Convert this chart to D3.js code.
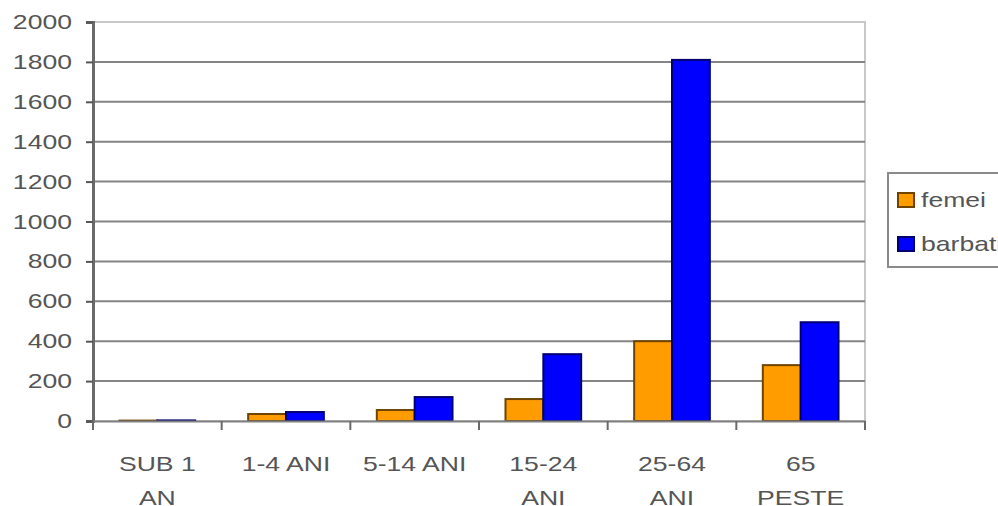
<!DOCTYPE html>
<html>
<head>
<meta charset="utf-8">
<script src="https://cdn.jsdelivr.net/npm/d3@7/dist/d3.min.js"></script>
<style>
  html, body { margin: 0; padding: 0; background: #fff; overflow: hidden; }
  svg { display: block; font-family: Arial, "Liberation Sans", sans-serif; }
</style>
</head>
<body>
<svg id="chart" width="998" height="506"></svg>
<script>
// Age groups (line breaks as shown under the axis)
const categories = ["SUB 1 AN", "1-4 ANI", "5-14 ANI", "15-24 ANI", "25-64 ANI", "65 PESTE"];
const categoryLines = [["SUB 1", "AN"], ["1-4 ANI"], ["5-14 ANI"], ["15-24", "ANI"], ["25-64", "ANI"], ["65", "PESTE"]];
const seriesNames = ["femei", "barbati"];
const femei = [2, 35, 55, 110, 400, 280];
const barbati = [3, 45, 120, 335, 1810, 495];
const yTicks = [0, 200, 400, 600, 800, 1000, 1200, 1400, 1600, 1800, 2000];

const fills = ["#ff9c00", "#0000ff"];
const strokes = ["#6e4400", "#000070"];
const textColor = "#555";
const fontSize = 20;
const stretch = 1.33; // wide lettering

const svg = d3.select("#chart");
const m = { left: 93, top: 22, right: 865, bottom: 421 };

const x = d3.scaleBand().domain(categories).range([m.left, m.right]);
const x1 = d3.scaleBand().domain(seriesNames).range([0, x.bandwidth()]).paddingInner(0).paddingOuter(0.7);
const y = d3.scaleLinear().domain([0, 2000]).range([m.bottom, m.top]);

// draws a wide label anchored at (px, py)
function wideText(sel, px, py, str, anchor) {
  return sel.append("text")
    .attr("transform", `translate(${px},${py}) scale(${stretch},1)`)
    .attr("text-anchor", anchor)
    .attr("fill", textColor)
    .attr("font-size", fontSize)
    .text(str);
}

// plot frame (top/right light border)
svg.append("rect")
  .attr("x", m.left).attr("y", m.top)
  .attr("width", m.right - m.left).attr("height", m.bottom - m.top)
  .attr("fill", "#fff").attr("stroke", "#c8c8c8").attr("stroke-width", 2);

// horizontal gridlines
svg.append("g").selectAll("line").data(yTicks.filter(d => d > 0 && d < 2000)).join("line")
  .attr("x1", m.left).attr("x2", m.right)
  .attr("y1", d => y(d)).attr("y2", d => y(d))
  .attr("stroke", "#858585").attr("stroke-width", 2);

// bars
const rows = categories.map((c, i) => ({ c, vals: [femei[i], barbati[i]] }));
const g = svg.append("g");
rows.forEach(r => {
  r.vals.forEach((v, k) => {
    const s = seriesNames[k];
    g.append("rect")
      .attr("x", x(r.c) + x1(s))
      .attr("y", y(v))
      .attr("width", x1.bandwidth())
      .attr("height", Math.max(0, y(0) - y(v)))
      .attr("fill", fills[k])
      .attr("stroke", strokes[k])
      .attr("stroke-width", 2);
  });
});

// y axis
const yAxis = d3.axisLeft(y).tickValues(yTicks).tickSize(7).tickFormat("");
const ya = svg.append("g").attr("transform", `translate(${m.left},0)`).call(yAxis);
ya.select(".domain").attr("stroke", "#6a6a6a").attr("stroke-width", 3);
ya.selectAll(".tick line").attr("stroke", "#555").attr("stroke-width", 2);
const yl = svg.append("g");
yTicks.forEach(t => wideText(yl, 72, y(t) + 7, d3.format("d")(t), "end"));

// x axis
const xAxis = d3.axisBottom(x).tickSize(0).tickFormat("");
const xa = svg.append("g").attr("transform", `translate(0,${m.bottom})`).call(xAxis);
xa.select(".domain").attr("stroke", "#808080").attr("stroke-width", 2);
const bounds = categories.map(c => x(c)).concat([m.right]);
xa.selectAll(".sep").data(bounds).join("line").attr("class", "sep")
  .attr("x1", d => d).attr("x2", d => d).attr("y1", 0).attr("y2", 9)
  .attr("stroke", "#6a6a6a").attr("stroke-width", 2);

// category labels
const lab = svg.append("g");
categories.forEach((c, i) => {
  categoryLines[i].forEach((ln, j) => {
    wideText(lab, x(c) + x.bandwidth() / 2, 471 + j * 34, ln, "middle");
  });
});

// legend
const lg = svg.append("g");
lg.append("rect").attr("x", 888).attr("y", 173).attr("width", 130).attr("height", 94)
  .attr("fill", "#fff").attr("stroke", "#8a8a8a").attr("stroke-width", 2);
seriesNames.forEach((s, k) => {
  const cy = 200 + k * 44;
  lg.append("rect").attr("x", 898).attr("y", cy - 7).attr("width", 16).attr("height", 14)
    .attr("fill", fills[k]).attr("stroke", strokes[k]).attr("stroke-width", 2);
  wideText(lg, 921, cy + 7, s, "start");
});
</script>
</body>
</html>
